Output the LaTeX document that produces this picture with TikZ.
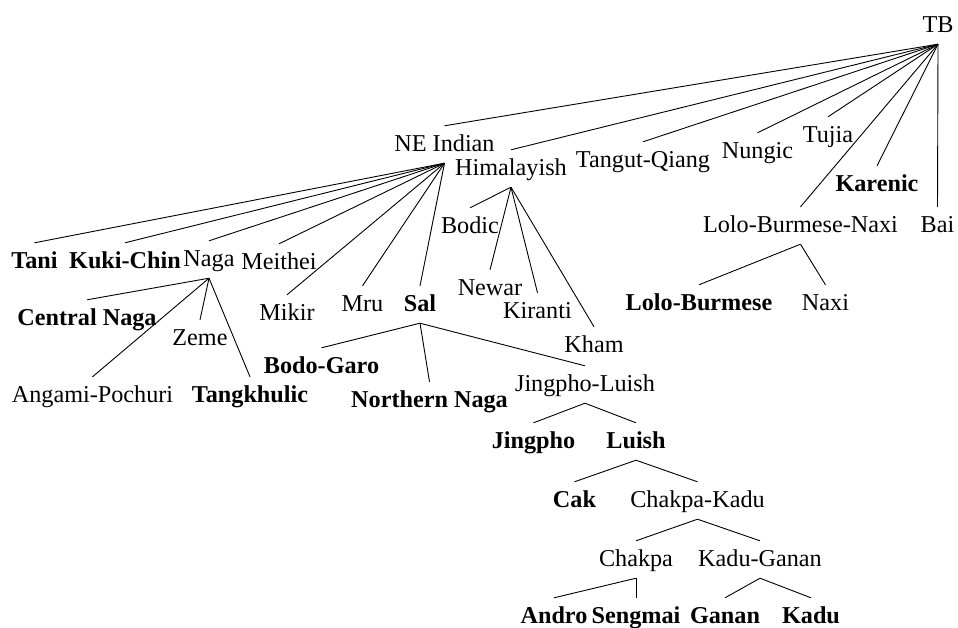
\documentclass[tikz,border=0pt]{standalone}
\usepackage{fontspec}
\setmainfont{Liberation Serif}
\tikzset{
  lab/.style={anchor=base, inner xsep=0pt, inner ysep=8pt, text height=17pt, text depth=4pt,
    font=\fontsize{24.2}{28}\selectfont},
  blab/.style={lab, font=\fontsize{24.2}{28}\selectfont\bfseries},
  edge/.style={line width=0.9pt, black}
}
\begin{document}
\begin{tikzpicture}[x=1pt,y=-1pt]
\useasboundingbox (0,0) rectangle (958,627);
% top level
\node[lab] (tb) at (938,32) {TB};
\node[lab] (ne) at (444.5,151) {NE Indian};
\node[lab] (him) at (511,175) {Himalayish};
\node[lab] (tq) at (643,167) {Tangut-Qiang};
\node[lab] (nun) at (757.5,158) {Nungic};
\node[lab] (tuj) at (828,142) {Tujia};
\node[blab] (kar) at (877,191) {Karenic};
\node[lab] (lbn) at (800.5,232) {Lolo-Burmese-Naxi};
\node[lab] (bai) at (937.5,232) {Bai};
\node[blab] (lb) at (699,310) {Lolo-Burmese};
\node[lab] (nax) at (825.5,310) {Naxi};
% NE Indian
\node[blab] (tani) at (34.5,268) {Tani};
\node[blab] (kuki) at (125,268) {Kuki-Chin};
\node[lab] (naga) at (209,266) {Naga};
\node[lab] (mei) at (279,269) {Meithei};
\node[lab] (mik) at (287,320) {Mikir};
\node[lab] (mru) at (362.5,311) {Mru};
\node[blab] (sal) at (420,311) {Sal};
% Naga
\node[blab] (cn) at (87,325) {Central Naga};
\node[lab] (ang) at (92.5,402) {Angami-Pochuri};
\node[lab] (zem) at (200,345) {Zeme};
\node[blab] (tan) at (250,402) {Tangkhulic};
% Himalayish
\node[lab] (bod) at (470,233) {Bodic};
\node[lab] (new) at (490,295) {Newar};
\node[lab] (kir) at (537.5,318) {Kiranti};
\node[lab] (kha) at (594,352) {Kham};
% Sal
\node[blab] (bg) at (321.5,373) {Bodo-Garo};
\node[blab] (nn) at (429.5,407) {Northern Naga};
\node[lab] (jl) at (585,391) {Jingpho-Luish};
\node[blab] (jin) at (533.5,448) {Jingpho};
\node[blab] (lui) at (636,448) {Luish};
\node[blab] (cak) at (574.5,507) {Cak};
\node[lab] (ck) at (697.5,507) {Chakpa-Kadu};
\node[lab] (chk) at (636,566) {Chakpa};
\node[lab] (kg) at (760,566) {Kadu-Ganan};
\node[blab] (and) at (554,623) {Andro};
\node[blab] (sen) at (636,623) {Sengmai};
\node[blab] (gan) at (725,623) {Ganan};
\node[blab] (kad) at (811,623) {Kadu};
% edges
\foreach \c in {ne,him,tq,nun,tuj,kar,lbn,bai} \draw[edge] (tb.south) -- (\c.north);
\foreach \c in {lb,nax} \draw[edge] (lbn.south) -- (\c.north);
\foreach \c in {tani,kuki,naga,mei,mik,mru,sal} \draw[edge] (ne.south) -- (\c.north);
\foreach \c in {cn,ang,zem,tan} \draw[edge] (naga.south) -- (\c.north);
\foreach \c in {bod,new,kir,kha} \draw[edge] (him.south) -- (\c.north);
\foreach \c in {bg,nn,jl} \draw[edge] (sal.south) -- (\c.north);
\foreach \c in {jin,lui} \draw[edge] (jl.south) -- (\c.north);
\foreach \c in {cak,ck} \draw[edge] (lui.south) -- (\c.north);
\foreach \c in {chk,kg} \draw[edge] (ck.south) -- (\c.north);
\foreach \c in {and,sen} \draw[edge] (chk.south) -- (\c.north);
\foreach \c in {gan,kad} \draw[edge] (kg.south) -- (\c.north);
\end{tikzpicture}
\end{document}
